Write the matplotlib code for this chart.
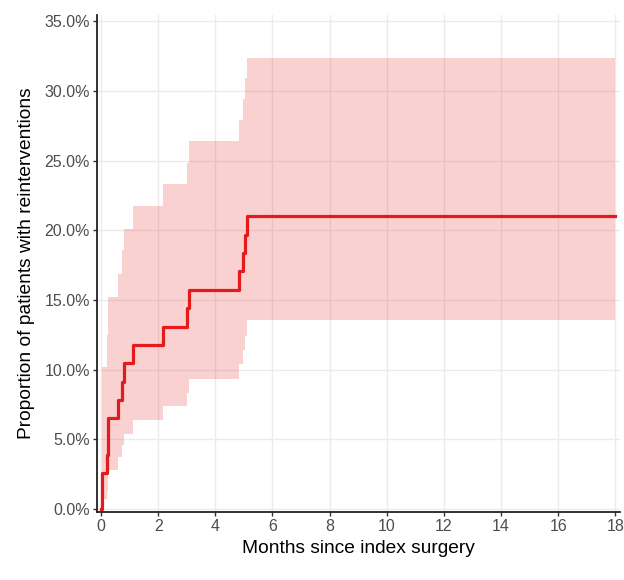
import numpy as np
import matplotlib
matplotlib.use("Agg")
import matplotlib.pyplot as plt
from matplotlib.ticker import PercentFormatter

plt.rcParams['font.family'] = ['Liberation Sans', 'DejaVu Sans']

# ------------------------------------------
# Cumulative incidence (months, %)
# ------------------------------------------
times = [0, 0.05, 0.2, 0.23, 0.59, 0.73, 0.79, 1.13, 2.18, 3.02, 3.07, 4.82, 4.96, 5.05, 5.1]
estimate = [0, 2.6, 3.9, 6.5, 7.8, 9.1, 10.5, 11.8, 13.1, 14.4, 15.7, 17.1, 18.4, 19.7, 21.0]
upper = [0, 10.2, 12.5, 15.2, 16.9, 18.6, 20.1, 21.75, 23.35, 24.85, 26.4, 27.9, 29.4, 30.9, 32.4]
lower = [0, 0.7, 1.3, 2.8, 3.7, 4.6, 5.4, 6.4, 7.4, 8.35, 9.35, 10.4, 11.4, 12.45, 13.6]
end_time = 18.0

x_ticks = [0, 2, 4, 6, 8, 10, 12, 14, 16, 18]
y_ticks = [0, 5, 10, 15, 20, 25, 30, 35]

# extend last value to the end of follow-up
t2 = times + [end_time]
est2 = estimate + [estimate[-1]]
up2 = upper + [upper[-1]]
lo2 = lower + [lower[-1]]

red = '#E41A1C'

fig = plt.figure(figsize=(6.24, 5.8), dpi=100)
ax = fig.add_axes([0.155, 0.118, 0.838, 0.856])

ax.fill_between(t2, lo2, up2, step='post', color=red, alpha=0.2, linewidth=0)
ax.step(t2, est2, where='post', color=red, linewidth=2.3)

ax.set_xlim(-0.15, 18.15)
ax.set_ylim(-0.18, 35.45)
ax.set_xticks(x_ticks)
ax.set_yticks(y_ticks)
ax.yaxis.set_major_formatter(PercentFormatter(decimals=1))

ax.grid(True, color='#EBEBEB', linewidth=1.0)
ax.set_axisbelow(True)
for s in ['top', 'right']:
    ax.spines[s].set_visible(False)
for s in ['left', 'bottom']:
    ax.spines[s].set_linewidth(1.3)
    ax.spines[s].set_color('#222222')
ax.tick_params(axis='both', length=3, width=1, color='#333333',
               labelsize=11.5, labelcolor='#4D4D4D', pad=2)

ax.set_xlabel("Months since index surgery", fontsize=13.8, labelpad=5)
ax.set_ylabel("Proportion of patients with reinterventions", fontsize=13.8, labelpad=7)

fig.savefig("out.png", dpi=100)
